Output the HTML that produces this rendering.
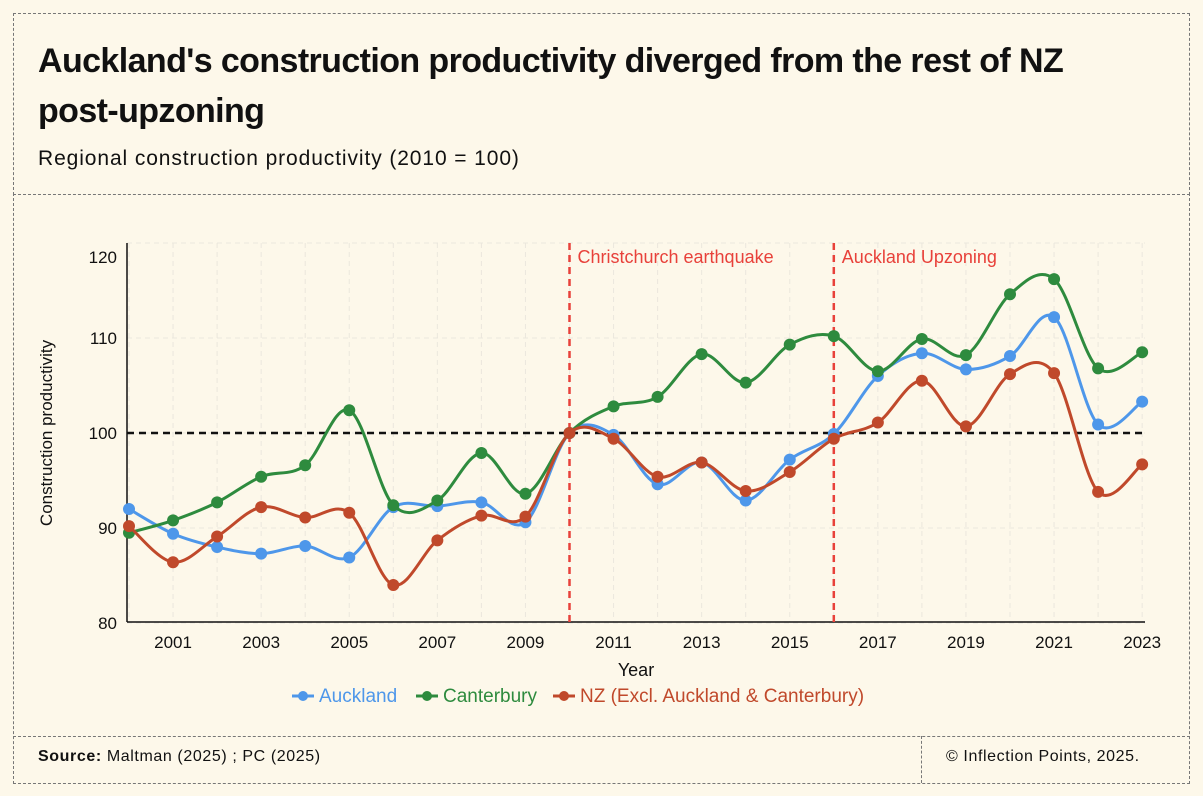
<!DOCTYPE html>
<html><head><meta charset="utf-8"><style>
body{margin:0;background:#fdf8ea;font-family:"Liberation Sans",sans-serif;}
#wrap{position:relative;width:1203px;height:796px;overflow:hidden;background:#fdf8ea;}
.box{position:absolute;border:1px dashed #777;}
</style></head><body>
<div id="wrap">
<div class="box" style="left:13px;top:13px;width:1175px;height:180px;border-bottom:1px dashed #777"></div>
<div class="box" style="left:13px;top:193px;width:1175px;height:590px;border-top:none"></div>
<div style="position:absolute;left:13px;top:736px;width:1177px;border-top:1px dashed #777"></div>
<div style="position:absolute;left:921px;top:736px;height:47px;border-left:1px dashed #777"></div>
<div style="position:absolute;left:38px;top:36px;font-size:34px;font-weight:bold;line-height:50px;letter-spacing:-0.6px;color:#111;white-space:nowrap">Auckland's construction productivity diverged from the rest of NZ<br>post-upzoning</div>
<div style="position:absolute;left:38px;top:147px;font-size:21px;letter-spacing:0.9px;color:#111">Regional construction productivity (2010 = 100)</div>
<div style="position:absolute;left:38px;top:748px;font-size:16px;letter-spacing:0.6px;color:#111"><b>Source:</b> Maltman (2025) ; PC (2025)</div>
<div style="position:absolute;left:946px;top:748px;font-size:16px;letter-spacing:0.6px;color:#111">© Inflection Points, 2025.</div>
<svg id="chart" width="1203" height="796" style="position:absolute;left:0;top:0"></svg>
</div>
<script>
const years=[2000,2001,2002,2003,2004,2005,2006,2007,2008,2009,2010,2011,2012,2013,2014,2015,2016,2017,2018,2019,2020,2021,2022,2023];
const auckland=[92.0,89.4,88.0,87.3,88.1,86.9,92.2,92.3,92.7,90.6,100,99.8,94.6,96.9,92.9,97.2,99.9,106.0,108.4,106.7,108.1,112.2,100.9,103.3];
const canterbury=[89.5,90.8,92.7,95.4,96.6,102.4,92.4,92.9,97.9,93.6,100,102.8,103.8,108.3,105.3,109.3,110.2,106.5,109.9,108.2,114.6,116.2,106.8,108.5];
const nzRest=[90.2,86.4,89.1,92.2,91.1,91.6,84.0,88.7,91.3,91.2,100,99.4,95.4,96.9,93.9,95.9,99.4,101.1,105.5,100.7,106.2,106.3,93.8,96.7];
const yTicks=[80,90,100,110,120];
const xTicks=[2001,2003,2005,2007,2009,2011,2013,2015,2017,2019,2021,2023];
const events=[{year:2010,label:"Christchurch earthquake"},{year:2016,label:"Auckland Upzoning"}];
const seriesNames=["Auckland","Canterbury","NZ (Excl. Auckland & Canterbury)"];
const colors=["#4e97ea","#2e8b3e","#c0492b"];
const X=y=>129+(y-2000)*44.05;
const Y=v=>433-(v-100)*9.5;
const svg=document.getElementById('chart');
const NS="http://www.w3.org/2000/svg";
function mk(t,a,p){const e=document.createElementNS(NS,t);for(const k in a)e.setAttribute(k,a[k]);(p||svg).appendChild(e);return e;}
yTicks.forEach(v=>{
 const l=mk('line',{x1:127,x2:1145,y1:Y(v),y2:Y(v),stroke:'#ebe7dd','stroke-dasharray':'5,4'});
 
 const t=mk('text',{x:117,y:Y(v)+6+(v===120?14:0),'text-anchor':'end','font-size':17,fill:'#111','font-family':'Liberation Sans'});t.textContent=v;
 
});
years.forEach(yr=>{
 const l=mk('line',{x1:X(yr),x2:X(yr),y1:243,y2:622,stroke:'#ebe7dd','stroke-dasharray':'5,4'});
 
});
xTicks.forEach(yr=>{
 const t=mk('text',{x:X(yr),y:648,'text-anchor':'middle','font-size':17,fill:'#111','font-family':'Liberation Sans'});t.textContent=yr;
 
});
const ax=mk('line',{x1:127,x2:127,y1:243,y2:622,stroke:'#111','stroke-width':1.5});

const bx=mk('line',{x1:127,x2:1145,y1:622,y2:622,stroke:'#111','stroke-width':1.5});

const xt=mk('text',{x:636,y:676,'text-anchor':'middle','font-size':18,fill:'#111','font-family':'Liberation Sans'});xt.textContent='Year';

const yt=mk('text',{x:52,y:433,'text-anchor':'middle','font-size':17,fill:'#111','font-family':'Liberation Sans',transform:'rotate(-90 52 433)'});yt.textContent='Construction productivity';

const bl=mk('line',{x1:127,x2:1145,y1:Y(100),y2:Y(100),stroke:'#111','stroke-width':2.5,'stroke-dasharray':'7,5'});

events.forEach(ev=>{
 const l=mk('line',{x1:X(ev.year),x2:X(ev.year),y1:243,y2:622,stroke:'#e8413a','stroke-width':2.5,'stroke-dasharray':'7,5'});
 
 const t=mk('text',{x:X(ev.year)+8,y:263,'font-size':18,fill:'#e8413a','font-family':'Liberation Sans'});t.textContent=ev.label;
 
});
function path(vals){
 const p=vals.map((v,i)=>[X(years[i]),Y(v)]);let d=`M${p[0][0]},${p[0][1]}`;
 for(let i=0;i<p.length-1;i++){const p0=p[Math.max(0,i-1)],p1=p[i],p2=p[i+1],p3=p[Math.min(p.length-1,i+2)];
 d+=` C${p1[0]+(p2[0]-p0[0])/6},${p1[1]+(p2[1]-p0[1])/6} ${p2[0]-(p3[0]-p1[0])/6},${p2[1]-(p3[1]-p1[1])/6} ${p2[0]},${p2[1]}`;}
 return d;}
[auckland,canterbury,nzRest].forEach((vals,si)=>{
 const g=mk('g',{});
 const l=mk('path',{d:path(vals),fill:'none',stroke:colors[si],'stroke-width':3},g);
 
 vals.forEach((v,i)=>{const c=mk('circle',{cx:X(years[i]),cy:Y(v),r:6,fill:colors[si]},g);
 });
});
const lx=[292,416,553];
seriesNames.forEach((n,i)=>{
 const g=mk('g',{});
 mk('line',{x1:lx[i],x2:lx[i]+22,y1:696,y2:696,stroke:colors[i],'stroke-width':3},g);
 mk('circle',{cx:lx[i]+11,cy:696,r:5,fill:colors[i]},g);
 const t=mk('text',{x:lx[i]+27,y:702,'font-size':19,fill:colors[i],'font-family':'Liberation Sans'},g);t.textContent=n;
});
</script>
</body></html>
